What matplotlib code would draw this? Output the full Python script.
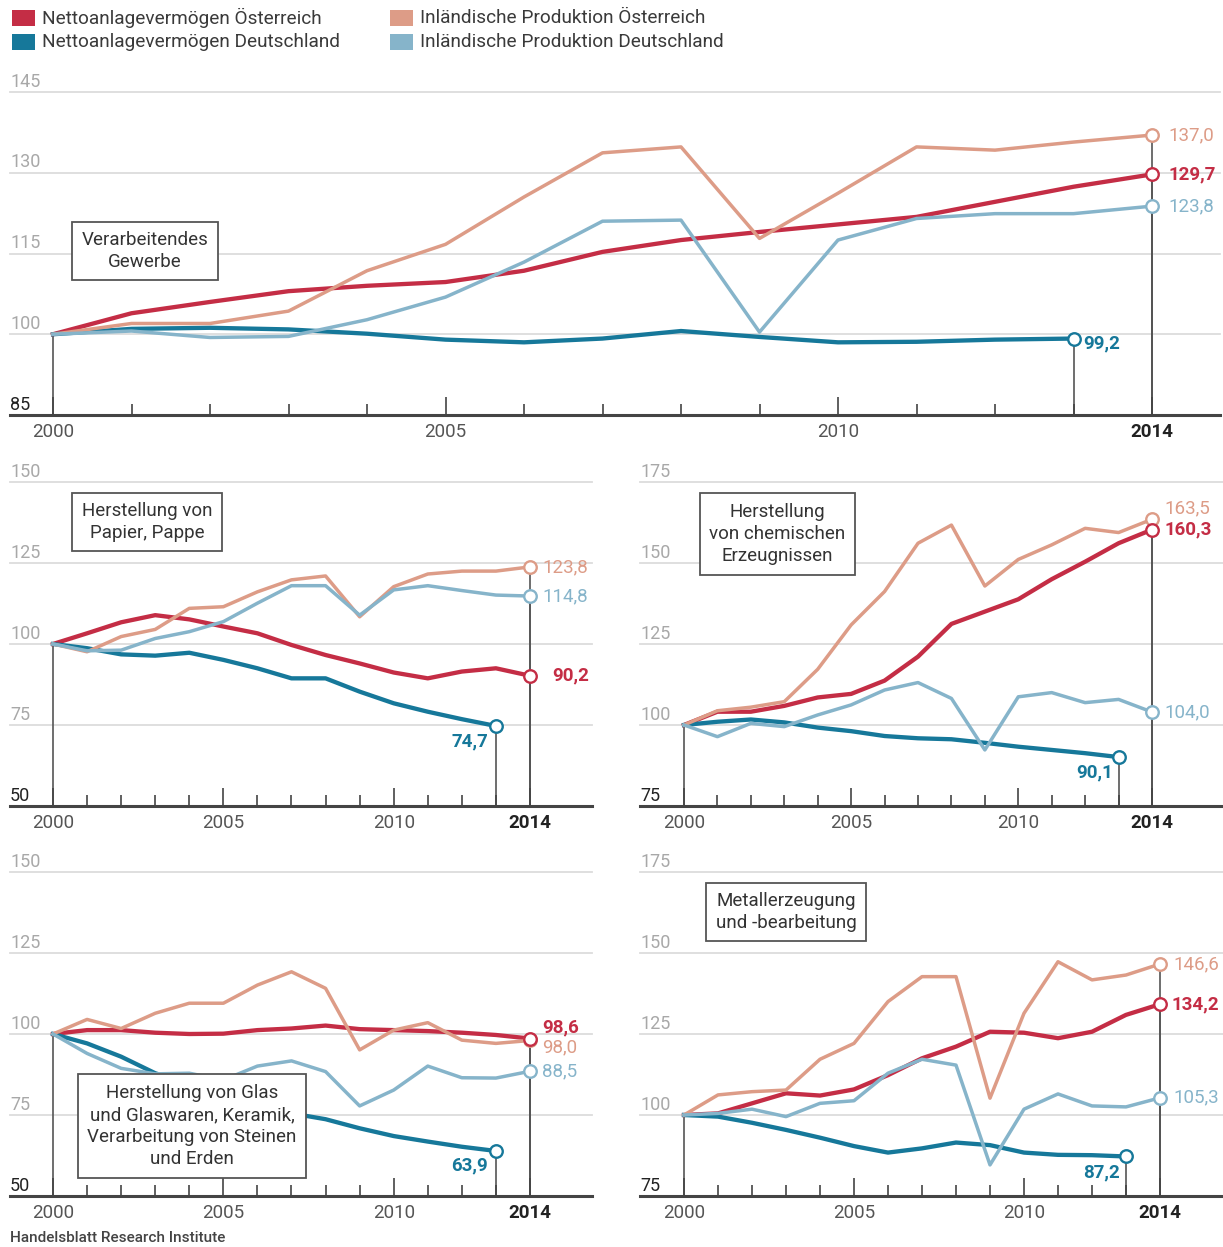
import matplotlib
matplotlib.use("Agg")
import matplotlib.pyplot as plt
from matplotlib.patches import Rectangle

plt.rcParams['font.family'] = ['Roboto', 'DejaVu Sans']

W, H, DPI = 1223, 1247, 100

years = list(range(2000, 2015))

# Verarbeitendes Gewerbe
gew_netto_at = [100, 103.9, 106.0, 108.0, 109.0, 109.7, 111.8, 115.3, 117.5, 119.0, 120.4, 121.8, 124.6, 127.4, 129.7]
gew_netto_de = [100, 101.0, 101.2, 100.9, 100.1, 99.0, 98.5, 99.2, 100.6, 99.5, 98.5, 98.6, 99.0, 99.2]
gew_prod_at = [100, 102.0, 102.0, 104.3, 111.8, 116.7, 125.5, 133.7, 134.8, 117.8, 126.2, 134.8, 134.2, 135.7, 137.0]
gew_prod_de = [100, 100.6, 99.4, 99.6, 102.7, 106.9, 113.4, 121.0, 121.2, 100.4, 117.5, 121.5, 122.4, 122.4, 123.8]

# Herstellung von Papier, Pappe
pap_netto_at = [100, 103.3, 106.7, 108.9, 107.6, 105.4, 103.3, 99.7, 96.6, 94.0, 91.2, 89.4, 91.5, 92.5, 90.2]
pap_netto_de = [100, 98.7, 96.8, 96.4, 97.3, 95.1, 92.5, 89.4, 89.4, 85.3, 81.7, 79.1, 76.8, 74.7]
pap_prod_at = [100, 97.6, 102.3, 104.5, 111.0, 111.5, 116.1, 119.8, 121.0, 108.4, 117.7, 121.6, 122.5, 122.5, 123.8]
pap_prod_de = [100, 97.9, 98.1, 101.7, 103.8, 106.9, 112.6, 118.0, 118.0, 108.9, 116.7, 118.0, 116.5, 115.1, 114.8]

# Herstellung von chemischen Erzeugnissen
chem_netto_at = [100, 104.1, 104.1, 105.9, 108.5, 109.6, 113.7, 121.1, 131.2, 135.0, 138.8, 145.0, 150.4, 156.1, 160.3]
chem_netto_de = [100, 101.0, 101.7, 100.8, 99.2, 98.1, 96.6, 95.9, 95.6, 94.5, 93.3, 92.3, 91.3, 90.1]
chem_prod_at = [100, 104.4, 105.5, 107.2, 117.2, 130.9, 141.2, 156.1, 161.7, 142.9, 151.1, 155.6, 160.7, 159.4, 163.5]
chem_prod_de = [100, 96.4, 100.5, 99.5, 103.1, 106.2, 110.8, 113.1, 108.2, 92.3, 108.7, 110.0, 106.9, 107.9, 104.0]

# Glas, Keramik, Steine und Erden
glas_netto_at = [100, 101.2, 101.2, 100.4, 100.0, 100.1, 101.2, 101.7, 102.6, 101.5, 101.2, 100.9, 100.4, 99.7, 98.6]
glas_netto_de = [100, 97.1, 93.0, 87.9, 84.5, 81.0, 78.0, 75.5, 73.7, 70.9, 68.5, 66.8, 65.2, 63.9]
glas_prod_at = [100, 104.5, 101.7, 106.4, 109.5, 109.5, 115.1, 119.2, 114.1, 95.1, 101.2, 103.5, 98.1, 97.1, 98.0]
glas_prod_de = [100, 94.0, 89.4, 87.7, 87.9, 85.8, 90.1, 91.7, 88.4, 77.8, 82.7, 90.1, 86.5, 86.4, 88.5]

# Metallerzeugung und -bearbeitung
met_netto_at = [100, 100.5, 103.6, 106.7, 106.0, 107.9, 112.3, 117.5, 121.1, 125.7, 125.4, 123.7, 125.7, 130.9, 134.2]
met_netto_de = [100, 99.5, 97.6, 95.4, 93.0, 90.4, 88.4, 89.7, 91.5, 90.7, 88.4, 87.7, 87.6, 87.2]
met_prod_at = [100, 106.2, 107.2, 107.7, 117.2, 122.1, 135.0, 142.7, 142.7, 105.2, 131.4, 147.3, 141.7, 143.2, 146.6]
met_prod_de = [100, 100.5, 101.8, 99.5, 103.6, 104.4, 112.9, 117.2, 115.4, 84.6, 101.8, 106.5, 102.8, 102.5, 105.3]

legend_labels = ["Nettoanlagevermögen Österreich", "Nettoanlagevermögen Deutschland",
                 "Inländische Produktion Österreich", "Inländische Produktion Deutschland"]

C_NAT = '#c42d45'
C_NDE = '#16789a'
C_PAT = '#dd9c87'
C_PDE = '#86b4ca'
GRID = '#dcdcdc'
AXC = '#444444'

PT = 72.0 / DPI  # points per pixel

fig = plt.figure(figsize=(W / DPI, H / DPI), dpi=DPI)
fig.patch.set_facecolor('white')


def fmt(v):
    return f"{v:.1f}".replace('.', ',')


def panel(box, xlim, yticks, series, title, title_xy, offsets):
    l, r, t, b = box
    ax = fig.add_axes([l / W, 1 - b / H, (r - l) / W, (b - t) / H])
    ax.set_xlim(*xlim)
    ymin, ymax = yticks[0], yticks[-1]
    ax.set_ylim(ymin, ymax)
    for s in ['top', 'left', 'right']:
        ax.spines[s].set_visible(False)
    ax.spines['bottom'].set_color(AXC)
    ax.spines['bottom'].set_linewidth(2.2)
    ax.set_yticks([])
    for yt in yticks[1:]:
        ax.axhline(yt, color=GRID, lw=1.3, zorder=0, clip_on=False)
    for i, yt in enumerate(yticks):
        col = '#222222' if i == 0 else '#a8a8a8'
        ax.annotate(str(yt), (0, yt), xycoords=('axes fraction', 'data'),
                    xytext=(0, 1), textcoords='offset points',
                    ha='left', va='bottom', fontsize=13, color=col,
                    annotation_clip=False)
    major = [2000, 2005, 2010, 2014]
    ax.set_xticks(major)
    ax.set_xticklabels([str(m) for m in major])
    ax.set_xticks([y for y in years if y not in major], minor=True)
    ax.tick_params(axis='x', which='major', direction='in', length=13, width=1.2,
                   color=AXC, labelsize=13.5, labelcolor='#555555', pad=6)
    ax.tick_params(axis='x', which='minor', direction='in', length=8, width=1.2, color=AXC)
    lab = ax.get_xticklabels()[-1]
    lab.set_fontweight('bold')
    lab.set_color('#222222')

    # reference line for base year
    ax.vlines(2000, ymin, 100, color='#555555', lw=1.2, zorder=1)

    order = [(2, C_PAT, 2.5, 'normal'), (3, C_PDE, 2.5, 'normal'),
             (1, C_NDE, 3.1, 'bold'), (0, C_NAT, 3.1, 'bold')]
    for idx, col, lw, weight in order:
        vals = series[idx]
        xs = years[:len(vals)]
        ax.plot(xs, vals, color=col, lw=lw, solid_joinstyle='round', zorder=3 + idx * 0.1)
        xe, ye = xs[-1], vals[-1]
        ax.vlines(xe, ymin, ye, color='#555555', lw=1.2, zorder=1)
        ax.plot([xe], [ye], 'o', ms=9, mfc='white', mec=col, mew=1.7, zorder=6, clip_on=False)
        dx, dy, ha = offsets[idx]
        ax.annotate(fmt(ye), (xe, ye), xytext=(dx * PT, dy * PT), textcoords='offset points',
                    ha=ha, va='center', fontsize=13.5, color=col, fontweight=weight,
                    annotation_clip=False, zorder=7)

    fig.text(title_xy[0] / W, 1 - title_xy[1] / H, title, ha='center', va='center',
             fontsize=13.5, color='#333333', linespacing=1.3, zorder=10,
             bbox=dict(boxstyle='square,pad=0.5', fc='white', ec='#555555', lw=1.3))
    return ax


# top panel
panel((10, 1220, 92, 415), (2000 - 43 / 78.5, 2014 + 68 / 78.5), [85, 100, 115, 130, 145],
      [gew_netto_at, gew_netto_de, gew_prod_at, gew_prod_de],
      "Verarbeitendes\nGewerbe", (145, 251),
      [(16, 0, 'left'), (10, -5, 'left'), (16, 0, 'left'), (16, 0, 'left')])

panel((10, 592, 482, 806), (2000 - 43 / 34.07, 2014 + 62 / 34.07), [50, 75, 100, 125, 150],
      [pap_netto_at, pap_netto_de, pap_prod_at, pap_prod_de],
      "Herstellung von\nPapier, Pappe", (147, 522),
      [(22, 0, 'left'), (-8, -15, 'right'), (12, 0, 'left'), (12, 0, 'left')])

panel((640, 1223, 482, 806), (2000 - 44 / 33.43, 2014 + 71 / 33.43), [75, 100, 125, 150, 175],
      [chem_netto_at, chem_netto_de, chem_prod_at, chem_prod_de],
      "Herstellung\nvon chemischen\nErzeugnissen", (777, 534),
      [(12, 0, 'left'), (-6, -15, 'right'), (12, 11, 'left'), (12, 0, 'left')])

panel((10, 592, 872, 1196), (2000 - 43 / 34.07, 2014 + 62 / 34.07), [50, 75, 100, 125, 150],
      [glas_netto_at, glas_netto_de, glas_prod_at, glas_prod_de],
      "Herstellung von Glas\nund Glaswaren, Keramik,\nVerarbeitung von Steinen\nund Erden", (192, 1126),
      [(12, 11, 'left'), (-8, -14, 'right'), (12, -7, 'left'), (12, 0, 'left')])

panel((640, 1223, 872, 1196), (2000 - 44 / 34.0, 2014 + 63 / 34.0), [75, 100, 125, 150, 175],
      [met_netto_at, met_netto_de, met_prod_at, met_prod_de],
      "Metallerzeugung\nund -bearbeitung", (786, 912),
      [(12, 0, 'left'), (-6, -16, 'right'), (13, 0, 'left'), (13, 0, 'left')])

# legend
leg = [(12, 18, C_NAT, legend_labels[0]), (12, 42, C_NDE, legend_labels[1]),
       (390, 18, C_PAT, legend_labels[2]), (390, 42, C_PDE, legend_labels[3])]
for x, y, col, txt in leg:
    fig.patches.append(Rectangle((x / W, 1 - (y + 8) / H), 23 / W, 16 / H,
                                 transform=fig.transFigure, fc=col, ec='none'))
    fig.text((x + 30) / W, 1 - y / H, txt, ha='left', va='center', fontsize=13.7, color='#3a3a3a')

fig.text(10 / W, 2.5 / H, "Handelsblatt Research Institute", ha='left', va='bottom',
         fontsize=11, color='#444444', fontweight='medium')

fig.savefig('out.png', dpi=DPI, facecolor='white')
